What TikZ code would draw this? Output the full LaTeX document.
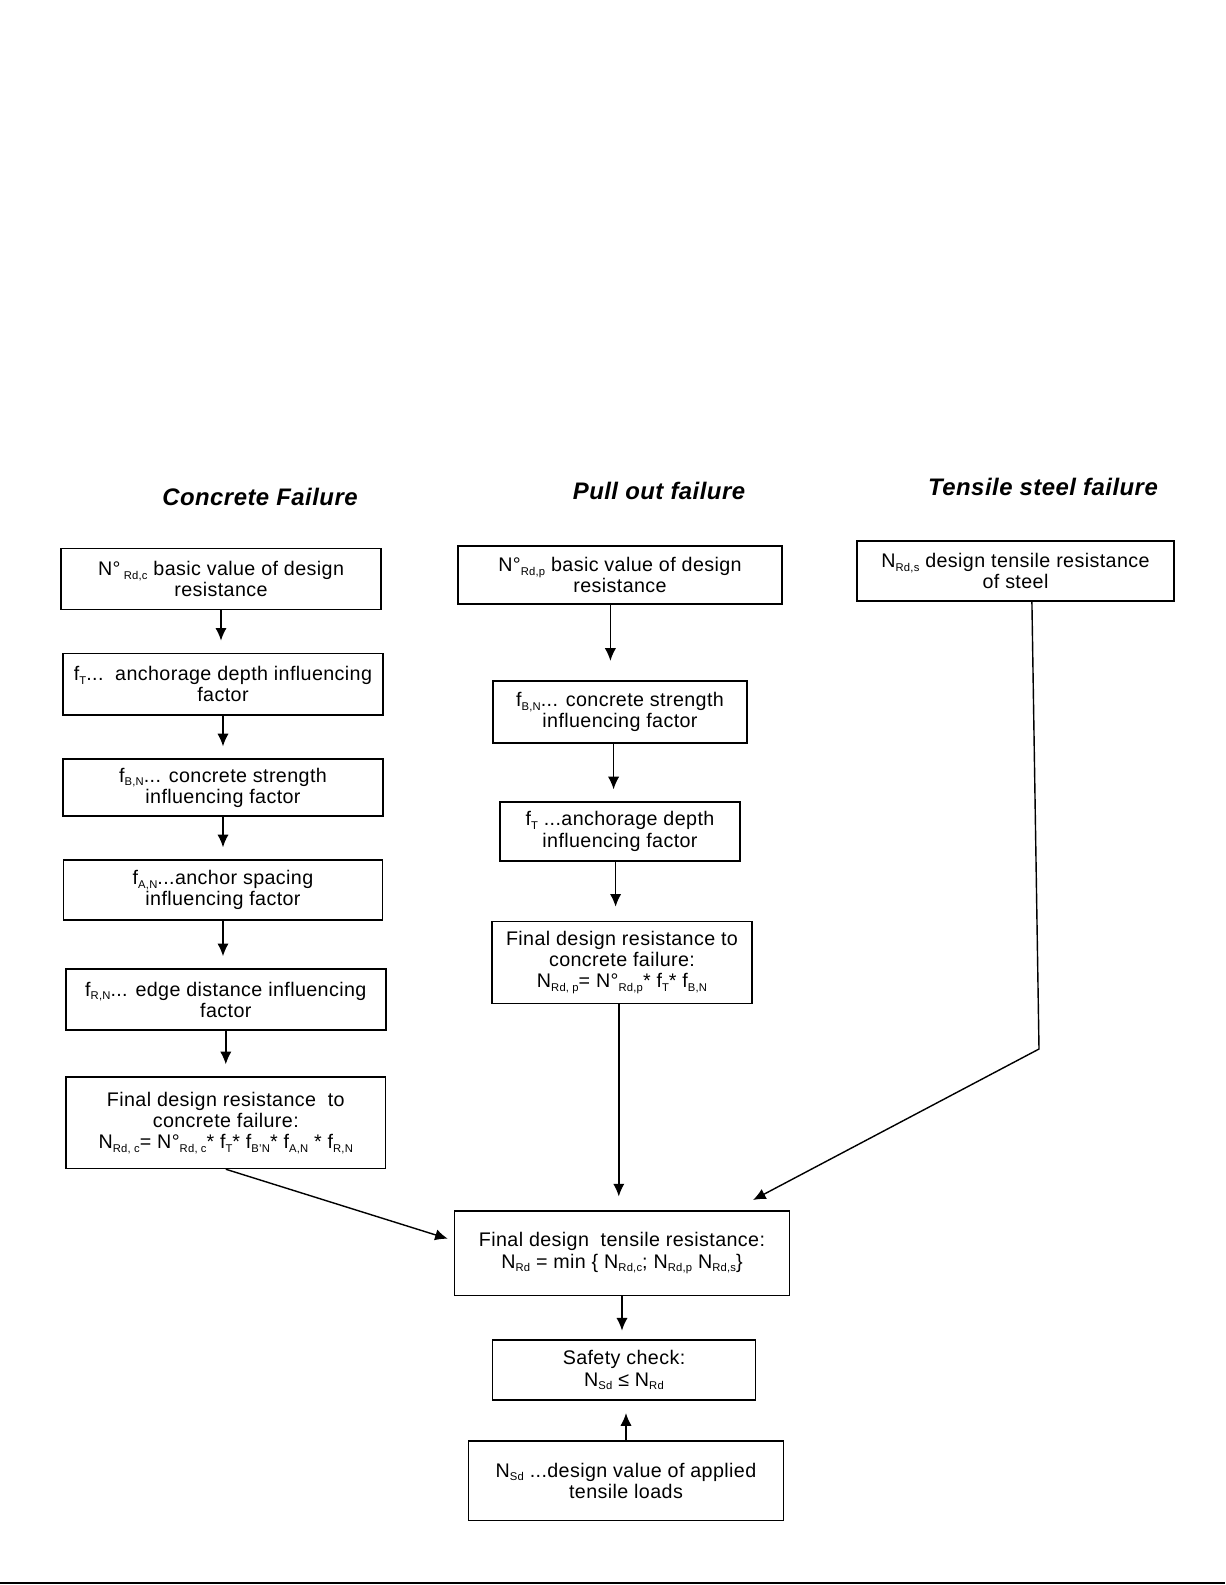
\documentclass[tikz,border=0pt]{standalone}
\usepackage{fontspec}
\setmainfont{Liberation Sans}[LetterSpace=2]
\usetikzlibrary{arrows.meta,positioning}
\newcommand{\lowidx}[1]{\raisebox{-0.35ex}{\fontsize{8}{8}\selectfont #1}}
\tikzset{
  stepbox/.style={draw,line width=1.2pt,align=center,inner sep=3pt,
    font=\fontsize{14}{15}\selectfont},
  heading/.style={font=\fontsize{17}{20}\selectfont\bfseries\itshape},
  arrow/.style={-{Latex[length=9pt,width=8pt]},line width=1pt,shorten >=0.3cm}
}

\begin{document}
\begin{tikzpicture}[x=0.025cm,y=-0.025cm]
  \useasboundingbox (0,0) rectangle (1225,1585);
  % column headings
  \node[heading] (hconc) at (260,497) {Concrete Failure};
  \node[heading] (hpull) at (659,491) {Pull out failure};
  \node[heading] (hsteel) at (1043,487) {Tensile steel failure};
  % concrete failure
  \node[stepbox,minimum width=8cm,minimum height=1.52cm] (A1) at (221,579)
    {N°\,\lowidx{Rd,c} basic value of design\\resistance};
  \node[stepbox,below=1.06cm of A1,xshift=0.05cm,minimum width=8cm,minimum height=1.54cm] (A2)
    {f\lowidx{T}...~~anchorage depth influencing\\factor};
  \node[stepbox,below=1.06cm of A2,minimum width=8cm,minimum height=1.42cm] (A3)
    {f\lowidx{B,N}... concrete strength\\influencing factor};
  \node[stepbox,below=1.06cm of A3,minimum width=7.98cm,minimum height=1.5cm] (A4)
    {f\lowidx{A,N}...anchor spacing\\influencing factor};
  \node[stepbox,below=1.18cm of A4,xshift=0.07cm,minimum width=8cm,minimum height=1.53cm] (A5)
    {f\lowidx{R,N}... edge distance influencing\\factor};
  \node[stepbox,below=1.13cm of A5,minimum width=7.98cm,minimum height=2.28cm] (A6)
    {Final design resistance~~to\\concrete failure:\\
     N\lowidx{Rd, c}= N°\lowidx{Rd, c}* f\lowidx{T}* f\lowidx{B'N}* f\lowidx{A,N} * f\lowidx{R,N}};
  % pull out failure
  \node[stepbox,minimum width=8.1cm,minimum height=1.45cm] (B1) at (620,575)
    {N°\lowidx{Rd,p} basic value of design\\resistance};
  \node[stepbox,below=1.88cm of B1,minimum width=6.35cm,minimum height=1.55cm] (B2)
    {f\lowidx{B,N}... concrete strength\\influencing factor};
  \node[stepbox,below=1.44cm of B2,minimum width=6cm,minimum height=1.46cm] (B3)
    {f\lowidx{T} ...anchorage depth\\influencing factor};
  \node[stepbox,below=1.48cm of B3,xshift=0.05cm,minimum width=6.5cm,minimum height=2.05cm] (B4)
    {Final design resistance to\\concrete failure:\\
     N\lowidx{Rd, p}= N°\lowidx{Rd,p}* f\lowidx{T}* f\lowidx{B,N}};
  \node[stepbox,below=5.15cm of B4,minimum width=8.38cm,minimum height=2.1cm] (F)
    {Final design~~tensile resistance:\\
     N\lowidx{Rd} = min \{ N\lowidx{Rd,c}; N\lowidx{Rd,p} N\lowidx{Rd,s}\}};
  \node[stepbox,below=1.08cm of F,xshift=0.05cm,minimum width=6.58cm,minimum height=1.5cm] (S)
    {Safety check:\\N\lowidx{Sd} ≤ N\lowidx{Rd}};
  \node[stepbox,below=0.98cm of S,xshift=0.05cm,minimum width=7.88cm,minimum height=1.98cm] (L)
    {N\lowidx{Sd} ...design value of applied\\tensile loads};
  % tensile steel failure
  \node[stepbox,minimum width=7.93cm,minimum height=1.5cm] (C1) at (1015.5,571)
    {N\lowidx{Rd,s} design tensile resistance\\of steel};
  \coordinate (steelbend) at (1039,1049);
  \coordinate (steeltip) at (753,1200);
  % connectors
  \draw[arrow] (A1.south) -- (A1.south |- A2.north);
  \draw[arrow] (A2.south) -- (A2.south |- A3.north);
  \draw[arrow] (A3.south) -- (A3.south |- A4.north);
  \draw[arrow] (A4.south) -- (A4.south |- A5.north);
  \draw[arrow] (A5.south) -- (A5.south |- A6.north);
  \draw[arrow,shorten >=0.15cm] (A6.south) -- ([yshift=0.32cm]F.west);
  \draw[arrow,shorten >=0.48cm] ([xshift=-0.24cm]B1.south) -- ([xshift=-0.24cm]B1.south |- B2.north);
  \draw[arrow] ([xshift=-0.16cm]B2.south) -- ([xshift=-0.16cm]B2.south |- B3.north);
  \draw[arrow,shorten >=0.35cm] ([xshift=-0.11cm]B3.south) -- ([xshift=-0.11cm]B3.south |- B4.north);
  \draw[arrow,shorten >=0.35cm] ([xshift=-0.08cm]B4.south) -- ([xshift=-0.08cm]B4.south |- F.north);
  \draw[arrow,shorten >=0.22cm] (F.south) -- (F.south |- S.north);
  \draw[arrow] (L.north) -- (L.north |- S.south);
  \draw[arrow,shorten >=0pt] ([xshift=0.41cm]C1.south) -- (steelbend) -- (steeltip);
  % scan edge
  \draw[line width=1.5pt] (0,1583) -- (1225,1583);
\end{tikzpicture}
\end{document}
